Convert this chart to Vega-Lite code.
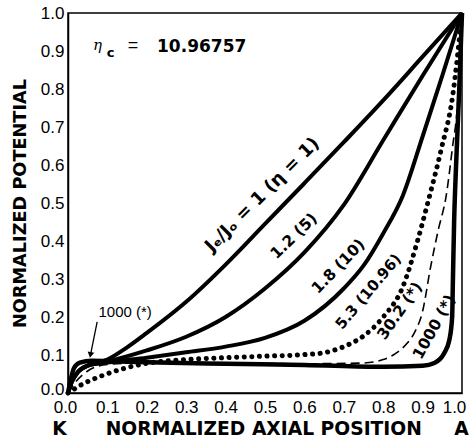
{
  "$schema": "https://vega.github.io/schema/vega-lite/v6.json",
  "width": 394,
  "height": 380,
  "autosize": {"type": "none"},
  "padding": {"left": 68, "top": 13, "right": 7, "bottom": 54},
  "background": "white",
  "config": {
    "view": {"stroke": "black", "strokeWidth": 1.5},
    "axis": {
      "grid": false,
      "ticks": false,
      "domainColor": "black",
      "domainWidth": 1.5,
      "labelColor": "black",
      "titleColor": "black",
      "labelFont": "Liberation Sans",
      "labelFontSize": 17,
      "titleFont": "DejaVu Sans",
      "titleFontWeight": "bold",
      "labelFlush": false,
      "labelOverlap": false,
      "labelBound": false
    }
  },
  "datasets": {
    "c1": [
      {"x": 0, "y": 0}, {"x": 0.01, "y": 0.03}, {"x": 0.025, "y": 0.055}, {"x": 0.05, "y": 0.072},
      {"x": 0.1, "y": 0.088}, {"x": 0.15, "y": 0.12}, {"x": 0.2, "y": 0.158}, {"x": 0.3, "y": 0.24},
      {"x": 0.4, "y": 0.338}, {"x": 0.5, "y": 0.445}, {"x": 0.6, "y": 0.552}, {"x": 0.7, "y": 0.66},
      {"x": 0.8, "y": 0.77}, {"x": 0.9, "y": 0.885}, {"x": 1, "y": 1}
    ],
    "c2": [
      {"x": 0, "y": 0}, {"x": 0.01, "y": 0.03}, {"x": 0.025, "y": 0.055}, {"x": 0.05, "y": 0.072},
      {"x": 0.1, "y": 0.083}, {"x": 0.2, "y": 0.112}, {"x": 0.3, "y": 0.148}, {"x": 0.4, "y": 0.2},
      {"x": 0.5, "y": 0.275}, {"x": 0.6, "y": 0.37}, {"x": 0.7, "y": 0.495}, {"x": 0.8, "y": 0.665},
      {"x": 0.9, "y": 0.835}, {"x": 1, "y": 1}
    ],
    "c3": [
      {"x": 0, "y": 0}, {"x": 0.01, "y": 0.03}, {"x": 0.025, "y": 0.055}, {"x": 0.05, "y": 0.072},
      {"x": 0.1, "y": 0.08}, {"x": 0.2, "y": 0.093}, {"x": 0.3, "y": 0.107}, {"x": 0.4, "y": 0.122},
      {"x": 0.5, "y": 0.145}, {"x": 0.6, "y": 0.19}, {"x": 0.7, "y": 0.275}, {"x": 0.75, "y": 0.335},
      {"x": 0.8, "y": 0.42}, {"x": 0.85, "y": 0.52}, {"x": 0.9, "y": 0.675}, {"x": 0.95, "y": 0.835},
      {"x": 1, "y": 1}
    ],
    "c4": [
      {"x": 0, "y": 0}, {"x": 0.04, "y": 0.025}, {"x": 0.08, "y": 0.043}, {"x": 0.14, "y": 0.064},
      {"x": 0.2, "y": 0.078}, {"x": 0.3, "y": 0.088}, {"x": 0.4, "y": 0.093}, {"x": 0.5, "y": 0.097},
      {"x": 0.6, "y": 0.101}, {"x": 0.65, "y": 0.106}, {"x": 0.7, "y": 0.122}, {"x": 0.75, "y": 0.15},
      {"x": 0.8, "y": 0.2}, {"x": 0.85, "y": 0.28}, {"x": 0.887, "y": 0.4}, {"x": 0.913, "y": 0.5},
      {"x": 0.947, "y": 0.64}, {"x": 0.976, "y": 0.78}, {"x": 1, "y": 1}
    ],
    "c5": [
      {"x": 0, "y": 0}, {"x": 0.02, "y": 0.03}, {"x": 0.05, "y": 0.058}, {"x": 0.1, "y": 0.075},
      {"x": 0.2, "y": 0.08}, {"x": 0.4, "y": 0.079}, {"x": 0.6, "y": 0.077}, {"x": 0.75, "y": 0.079},
      {"x": 0.8, "y": 0.088}, {"x": 0.83, "y": 0.103}, {"x": 0.86, "y": 0.13}, {"x": 0.88, "y": 0.16},
      {"x": 0.9, "y": 0.215}, {"x": 0.92, "y": 0.33}, {"x": 0.94, "y": 0.43}, {"x": 0.96, "y": 0.52},
      {"x": 0.975, "y": 0.64}, {"x": 0.99, "y": 0.78}, {"x": 1, "y": 1}
    ],
    "c6": [
      {"x": 0, "y": 0}, {"x": 0.006, "y": 0.03}, {"x": 0.015, "y": 0.065}, {"x": 0.03, "y": 0.08},
      {"x": 0.06, "y": 0.085}, {"x": 0.1, "y": 0.084}, {"x": 0.2, "y": 0.081}, {"x": 0.4, "y": 0.077},
      {"x": 0.6, "y": 0.074}, {"x": 0.8, "y": 0.069}, {"x": 0.9, "y": 0.072}, {"x": 0.93, "y": 0.079},
      {"x": 0.955, "y": 0.105}, {"x": 0.968, "y": 0.14}, {"x": 0.975, "y": 0.2}, {"x": 0.977, "y": 0.3},
      {"x": 0.98, "y": 0.45}, {"x": 0.985, "y": 0.6}, {"x": 0.993, "y": 0.8}, {"x": 1, "y": 1}
    ],
    "xt": [
      {"x": 0.1}, {"x": 0.2}, {"x": 0.3}, {"x": 0.4}, {"x": 0.5}, {"x": 0.6}, {"x": 0.7}, {"x": 0.8}, {"x": 0.9}
    ],
    "yt": [
      {"y": 0.1}, {"y": 0.2}, {"y": 0.3}, {"y": 0.4}, {"y": 0.5}, {"y": 0.6}, {"y": 0.7}, {"y": 0.8}, {"y": 0.9}
    ]
  },
  "encoding": {
    "x": {
      "field": "x", "type": "quantitative",
      "scale": {"domain": [0, 1], "nice": false, "zero": false},
      "axis": {
        "values": [0, 0.1, 0.2, 0.3, 0.4, 0.5, 0.6, 0.7, 0.8, 0.9, 1],
        "format": ".1f",
        "labelPadding": 6,
        "labelOffset": {"condition": [{"test": "datum.value == 1", "value": -8}, {"test": "datum.value == 0", "value": -3}], "value": 0},
        "title": "K\u00a0\u00a0\u00a0\u00a0\u00a0\u00a0NORMALIZED AXIAL POSITION\u00a0\u00a0\u00a0\u00a0\u00a0A",
        "titleFontSize": 18.7,
        "titlePadding": 4,
        "titleX": 192
      }
    },
    "y": {
      "field": "y", "type": "quantitative",
      "scale": {"domain": [0, 1], "nice": false, "zero": false},
      "axis": {
        "values": [0, 0.1, 0.2, 0.3, 0.4, 0.5, 0.6, 0.7, 0.8, 0.9, 1],
        "format": ".1f",
        "labelPadding": 4,
        "labelOffset": {"condition": {"test": "datum.value == 0", "value": -4}, "value": 0},
        "title": "NORMALIZED POTENTIAL",
        "titleFontSize": 17.7,
        "titlePadding": 11
      }
    }
  },
  "layer": [
    {"data": {"name": "c1"}, "mark": {"type": "line", "color": "black", "strokeWidth": 4, "interpolate": "monotone"}},
    {"data": {"name": "c2"}, "mark": {"type": "line", "color": "black", "strokeWidth": 4, "interpolate": "monotone"}},
    {"data": {"name": "c3"}, "mark": {"type": "line", "color": "black", "strokeWidth": 4, "interpolate": "monotone"}},
    {"data": {"name": "c4"}, "mark": {"type": "line", "color": "black", "strokeWidth": 5, "strokeDash": [0.1, 7.5], "strokeCap": "round", "interpolate": "monotone"}},
    {"data": {"name": "c5"}, "mark": {"type": "line", "color": "black", "strokeWidth": 1.6, "strokeDash": [9, 5], "interpolate": "monotone"}},
    {"data": {"name": "c6"}, "mark": {"type": "line", "color": "black", "strokeWidth": 4.5, "interpolate": "monotone"}},
    {
      "data": {"name": "xt"},
      "mark": {"type": "tick", "orient": "vertical", "color": "black", "thickness": 1.8, "size": 24, "clip": true, "opacity": 1},
      "encoding": {"y": {"datum": 0, "type": "quantitative"}}
    },
    {
      "data": {"name": "xt"},
      "mark": {"type": "tick", "orient": "vertical", "color": "black", "thickness": 1.8, "size": 24, "clip": true, "opacity": 1},
      "encoding": {"y": {"datum": 1, "type": "quantitative"}}
    },
    {
      "data": {"name": "yt"},
      "mark": {"type": "tick", "orient": "horizontal", "color": "black", "thickness": 1.8, "size": 24, "clip": true, "opacity": 1},
      "encoding": {"x": {"datum": 0, "type": "quantitative"}}
    },
    {
      "data": {"name": "yt"},
      "mark": {"type": "tick", "orient": "horizontal", "color": "black", "thickness": 1.8, "size": 20, "clip": true, "opacity": 1},
      "encoding": {"x": {"datum": 1, "type": "quantitative"}}
    },
    {
      "data": {"values": [{"x": 0.494, "y": 0.521, "label": "Jₑ/Jₒ = 1 (η = 1)"}]},
      "mark": {"type": "text", "angle": -45, "font": "DejaVu Sans", "fontWeight": "bold", "fontSize": 18, "color": "black"},
      "encoding": {"text": {"field": "label"}}
    },
    {
      "data": {"values": [{"x": 0.573, "y": 0.413, "label": "1.2 (5)"}]},
      "mark": {"type": "text", "angle": -44, "font": "DejaVu Sans", "fontWeight": "bold", "fontSize": 15.5, "color": "black"},
      "encoding": {"text": {"field": "label"}}
    },
    {
      "data": {"values": [{"x": 0.686, "y": 0.333, "label": "1.8 (10)"}]},
      "mark": {"type": "text", "angle": -46, "font": "DejaVu Sans", "fontWeight": "bold", "fontSize": 15.5, "color": "black"},
      "encoding": {"text": {"field": "label"}}
    },
    {
      "data": {"values": [{"x": 0.762, "y": 0.267, "label": "5.3 (10.96)"}]},
      "mark": {"type": "text", "angle": -50, "font": "DejaVu Sans", "fontWeight": "bold", "fontSize": 15, "color": "black"},
      "encoding": {"text": {"field": "label"}}
    },
    {
      "data": {"values": [{"x": 0.842, "y": 0.216, "label": "30.2 (*)"}]},
      "mark": {"type": "text", "angle": -55, "font": "DejaVu Sans", "fontWeight": "bold", "fontSize": 15.5, "color": "black"},
      "encoding": {"text": {"field": "label"}}
    },
    {
      "data": {"values": [{"x": 0.929, "y": 0.174, "label": "1000 (*)"}]},
      "mark": {"type": "text", "angle": -61, "font": "DejaVu Sans", "fontWeight": "bold", "fontSize": 15.5, "color": "black"},
      "encoding": {"text": {"field": "label"}}
    },
    {
      "data": {"values": [{"x": 0.145, "y": 0.213, "label": "1000 (*)"}]},
      "mark": {"type": "text", "font": "Liberation Sans", "fontSize": 15, "color": "black"},
      "encoding": {"text": {"field": "label"}}
    },
    {
      "data": {"values": [{"x": 0.074, "y": 0.187, "x2": 0.058, "y2": 0.105}]},
      "mark": {"type": "rule", "color": "black", "strokeWidth": 1.3},
      "encoding": {"x2": {"field": "x2"}, "y2": {"field": "y2"}}
    },
    {
      "data": {"values": [{"x": 0.057, "y": 0.1}]},
      "mark": {"type": "point", "shape": "triangle-down", "filled": true, "color": "black", "opacity": 1, "size": 45, "angle": 11}
    },
    {
      "data": {"values": [{"x": 0.075, "y": 0.916, "label": "η"}]},
      "mark": {"type": "text", "font": "DejaVu Serif", "fontStyle": "italic", "fontSize": 15, "color": "black"},
      "encoding": {"text": {"field": "label"}}
    },
    {
      "data": {"values": [{"x": 0.108, "y": 0.895, "label": "c"}]},
      "mark": {"type": "text", "font": "DejaVu Sans", "fontWeight": "bold", "fontSize": 13, "color": "black"},
      "encoding": {"text": {"field": "label"}}
    },
    {
      "data": {"values": [{"x": 0.165, "y": 0.913, "label": "="}]},
      "mark": {"type": "text", "font": "Liberation Sans", "fontSize": 18, "color": "black"},
      "encoding": {"text": {"field": "label"}}
    },
    {
      "data": {"values": [{"x": 0.226, "y": 0.911, "label": "10.96757"}]},
      "mark": {"type": "text", "align": "left", "font": "DejaVu Sans", "fontWeight": "bold", "fontSize": 17, "color": "black"},
      "encoding": {"text": {"field": "label"}}
    }
  ]
}
